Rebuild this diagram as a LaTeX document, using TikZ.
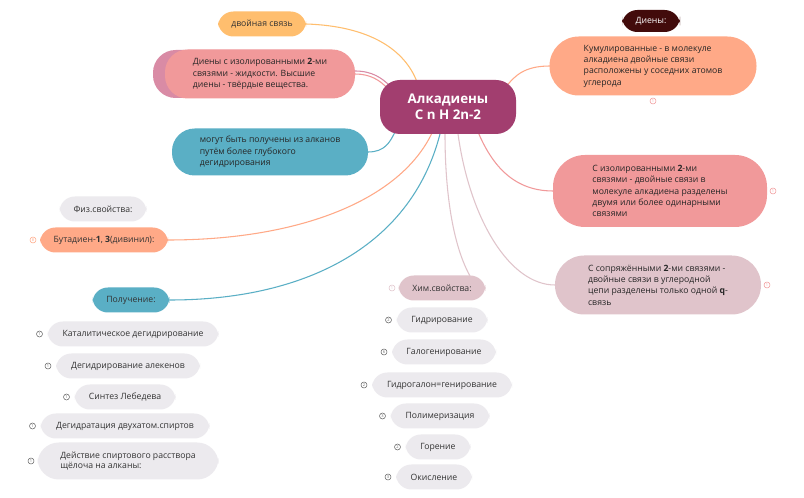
\documentclass[tikz,border=0pt]{standalone}
\usepackage{fontspec}
\setmainfont{Open Sans}
\begin{document}
\begin{tikzpicture}[x=0.75pt,y=-0.75pt,
 box/.style={rounded corners=11.5pt,minimum height=25*0.75pt,inner sep=2pt,font=\fontsize{6.5}{8}\selectfont,text=black!80},
 big/.style={rounded corners=17pt,align=left,font=\fontsize{6.5}{8.5}\selectfont,text=black!85,inner xsep=18pt},
 lnk/.style={line width=0.8pt},
 num/.style={circle,draw=#1,line width=0.4pt,inner sep=0.4pt,font=\fontsize{3}{3}\selectfont,text=#1,minimum size=6*0.75pt}]
\definecolor{cen}{HTML}{A23E6F}
\definecolor{org}{HTML}{FFBE6E}
\definecolor{pnk}{HTML}{F1999A}
\definecolor{pnk2}{HTML}{D98BA5}
\definecolor{tea}{HTML}{5AAFC5}
\definecolor{sal}{HTML}{FFA987}
\definecolor{lil}{HTML}{E0C4CB}
\definecolor{gry}{HTML}{ECEAEE}
\definecolor{drk}{HTML}{420B0B}
\useasboundingbox (0,0) rectangle (804,498);
\fill[white] (0,0) rectangle (804,498);
% connectors first
\coordinate (c1) at (417,82);
\draw[lnk,org] (306,24) .. controls (370,26) and (405,50) .. (c1);
\draw[lnk,pnk2] (355,71) .. controls (372,71) and (382,78) .. (390,86);
\draw[lnk,pnk] (355,74) .. controls (370,74) and (380,80) .. (388,89);
\draw[lnk,tea] (368,152) .. controls (385,152) and (390,142) .. (395,132);
\draw[lnk,sal] (550,66) .. controls (525,66) and (515,75) .. (505,88);
\draw[lnk,pnk] (553,191) .. controls (510,191) and (490,160) .. (478,132);
\draw[lnk,lil] (555,285) .. controls (510,285) and (470,220) .. (458,134);
\draw[lnk,lil] (470,276) .. controls (450,240) and (445,180) .. (445,134);
\draw[lnk,sal] (168,240) .. controls (300,240) and (400,200) .. (432,133);
\draw[lnk,tea] (170,300) .. controls (300,300) and (410,250) .. (440,134);
% nodes
\node[box,fill=org,minimum width=88*0.75pt] (dv) at (262,24) {двойная связь};
\fill[pnk2,rounded corners=17pt] (153,50) rectangle (345,98);
\node[big,fill=pnk,minimum width=190*0.75pt,minimum height=49*0.75pt] (di) at (260,74) {Диены с изолированными \textbf{2}-ми\\связями - жидкости. Высшие\\диены - твёрдые вещества.};
\node[big,fill=tea,minimum width=196*0.75pt,minimum height=47*0.75pt] (mo) at (270,152) {могут быть получены из алканов\\путём более глубокого\\дегидрирования};
\node[rounded corners=15pt,fill=cen,text=white,font=\bfseries\fontsize{10}{12}\selectfont,align=center,minimum width=136*0.75pt,minimum height=54*0.75pt] (cen) at (448,107) {Алкадиены\\C n H 2n-2};
\node[box,fill=drk,text=white,minimum width=58*0.75pt,minimum height=22*0.75pt,font=\fontsize{6.5}{8}\selectfont] (dn) at (651,21) {Диены:};
\node[big,fill=sal,minimum width=207*0.75pt,minimum height=59*0.75pt,rounded corners=22pt] (ku) at (653,66) {Кумулированные - в молекуле\\алкадиена двойные связи\\расположены у соседних атомов\\углерода};
\node[num=pnk] at (653,101) {1};
\node[big,fill=pnk,minimum width=214*0.75pt,minimum height=72*0.75pt,rounded corners=24pt] (iz) at (660,191) {С изолированными \textbf{2}-ми\\связями - двойные связи в\\молекуле алкадиена разделены\\двумя или более одинарными\\связями};
\node[num=pnk] at (773,191) {1};
\node[big,fill=lil,minimum width=206*0.75pt,minimum height=59*0.75pt,rounded corners=22pt] (so) at (658,285) {С сопряжёнными \textbf{2}-ми связями -\\двойные связи в углеродной\\цепи разделены только одной \textbf{q}-\\связь};
\node[num=pnk] at (767,285) {1};
\node[box,fill=gry,minimum width=87*0.75pt] (fi) at (103,209) {Физ.свойства:};
\node[box,fill=sal,minimum width=128*0.75pt] (bu) at (104,240) {Бутадиен-\textbf{1}, \textbf{3}(дивинил):};
\node[num=sal] at (33,240) {8};
\node[box,fill=tea,minimum width=77*0.75pt] (po) at (131,300) {Получение:};
\foreach \n/\x/\y/\w/\t [count=\i] in {ka/133/334/171/Каталитическое дегидрирование, da/128/366/144/Дегидрирование алекенов, si/125/397/101/Синтез Лебедева, dg/125/426/169/Дегидратация двухатом.спиртов}{
 \node[box,fill=gry,minimum width=\w*0.75pt] (\n) at (\x,\y) {\t};
 \node[num=black!60] at (\x-\w/2-8,\y) {1};
}
\node[box,fill=gry,minimum width=181*0.75pt,minimum height=37*0.75pt,align=left,rounded corners=16pt] (de) at (128,461) {Действие спиртового расствора\\щёлоча на алканы:};
\node[num=black!60] at (31,461) {1};
\node[box,fill=lil,minimum width=87*0.75pt] (xi) at (442,288) {Хим.свойства:};
\node[num=lil] at (392,288) {1};
\foreach \n/\x/\y/\w/\t/\k in {gi/442/320/91/Гидрирование/2, ga/444/352/104/Галогенирование/6, gg/442/385/140/Гидрогалон=генирование/2, pm/440/416/99/Полимеризация/3, go/438/447/65/Горение/2, ok/434/477/76/Окисление/3}{
 \node[box,fill=gry,minimum width=\w*0.75pt] (\n) at (\x,\y) {\t};
 \node[num=black!60] at (\x-\w/2-8,\y) {\k};
}
\end{tikzpicture}
\end{document}
